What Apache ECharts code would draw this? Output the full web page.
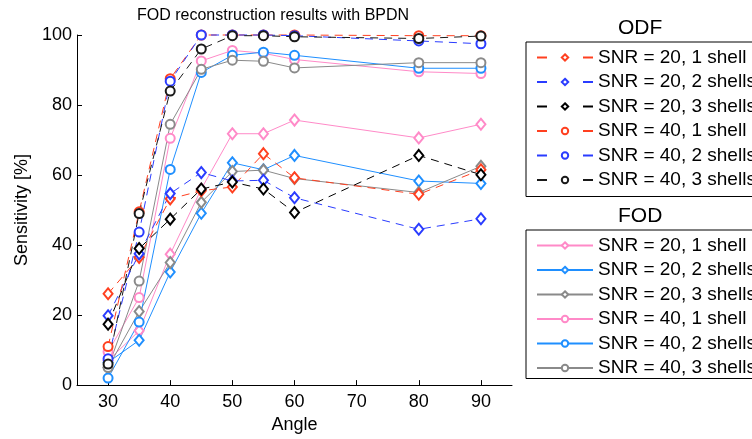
<!DOCTYPE html>
<html>
<head>
<meta charset="utf-8">
<script src="https://cdn.jsdelivr.net/npm/echarts@6/dist/echarts.min.js"></script>
<style>
html,body{margin:0;padding:0;background:#fff;}
#chart{width:752px;height:439px;}
</style>
</head>
<body>
<div id="chart"></div>
<script>
// ---- data ----
const angles = [30, 35, 40, 45, 50, 55, 60, 80, 90];
const xTicks = [30, 40, 50, 60, 70, 80, 90];
const seriesLabels = ['SNR = 20, 1 shell', 'SNR = 20, 2 shells', 'SNR = 20, 3 shells',
                      'SNR = 40, 1 shell', 'SNR = 40, 2 shells', 'SNR = 40, 3 shells'];

const odf_snr20_1 = [26.1, 36.5, 53.2, 55.5, 56.6, 66.1, 59.2, 54.5, 61.5];
const odf_snr20_2 = [19.8, 37.5, 54.7, 60.7, 58.3, 58.5, 53.5, 44.5, 47.5];
const odf_snr20_3 = [17.4, 39.0, 47.4, 56.0, 58.0, 56.0, 49.3, 65.6, 60.1];
const odf_snr40_1 = [11.0, 49.5, 87.5, 100, 100, 100, 100, 99.8, 99.8];
const odf_snr40_2 = [7.5, 43.7, 86.8, 100, 100, 100, 99.8, 98.3, 97.5];
const odf_snr40_3 = [6.0, 49.0, 84.0, 96.0, 99.8, 99.8, 99.5, 99.0, 99.7];

const fod_snr20_1 = [7.0, 15.5, 37.4, 56.0, 71.8, 71.8, 75.7, 70.6, 74.5];
const fod_snr20_2 = [6.5, 12.8, 32.3, 49.1, 63.5, 61.5, 65.6, 58.3, 57.6];
const fod_snr20_3 = [5.0, 21.0, 35.0, 52.2, 61.0, 61.4, 59.0, 55.0, 62.5];
const fod_snr40_1 = [9.5, 25.0, 70.5, 92.6, 95.6, 94.8, 93.0, 89.5, 89.0];
const fod_snr40_2 = [2.0, 18.0, 61.6, 89.3, 94.2, 95.1, 94.2, 90.5, 90.5];
const fod_snr40_3 = [5.0, 29.7, 74.5, 90.2, 92.8, 92.5, 90.6, 92.1, 92.1];

const odfValues = [odf_snr20_1, odf_snr20_2, odf_snr20_3, odf_snr40_1, odf_snr40_2, odf_snr40_3];
const fodValues = [fod_snr20_1, fod_snr20_2, fod_snr20_3, fod_snr40_1, fod_snr40_2, fod_snr40_3];

// ---- styles ----
const odfColors = ['#ff4020', '#2a3cff', '#000000', '#ff4020', '#2a3cff', '#1a1a1a'];
const fodColors = ['#ff8ac8', '#1f8fff', '#8a8a8a', '#ff8ac8', '#1f8fff', '#8a8a8a'];
const symbols = ['emptyDiamond', 'emptyDiamond', 'emptyDiamond', 'emptyCircle', 'emptyCircle', 'emptyCircle'];
const FONT = '"Liberation Sans", Arial, Helvetica, sans-serif';

function makeSeries(group, values, colors, dashed) {
  return values.map((vals, i) => ({
    name: group + '|' + seriesLabels[i],
    type: 'line',
    data: angles.map((a, j) => [a, vals[j]]),
    symbol: symbols[i],
    symbolSize: symbols[i] === 'emptyDiamond' ? [9, 11] : 9,
    clip: false,
    color: colors[i],
    lineStyle: { color: colors[i], width: 1, type: dashed ? [8, 6] : 'solid' },
    itemStyle: { color: colors[i], borderWidth: 1 },
    emphasis: { disabled: true },
    animation: false
  }));
}

const series = makeSeries('FOD', fodValues, fodColors, false)
  .concat(makeSeries('ODF', odfValues, odfColors, true));

const legendCommon = {
  orient: 'vertical',
  left: 526,
  itemWidth: 56,
  itemHeight: 8,
  itemGap: 5.5,
  borderColor: '#000',
  borderWidth: 1,
  backgroundColor: '#fff',
  selectedMode: false,
  formatter: n => n.split('|')[1],
  textStyle: { fontFamily: FONT, fontSize: 19, color: '#000' }
};

const chart = echarts.init(document.getElementById('chart'), null, { renderer: 'canvas' });
chart.setOption({
  animation: false,
  backgroundColor: '#fff',
  title: {
    text: 'FOD reconstruction results with BPDN',
    left: 137, top: 8, padding: 0,
    textStyle: { fontFamily: FONT, fontSize: 16, fontWeight: 'normal', color: '#000' }
  },
  graphic: [
    { type: 'text', left: 618, top: 18, style: { text: 'ODF', font: '21px ' + FONT, fill: '#000' } },
    { type: 'text', left: 618, top: 206, style: { text: 'FOD', font: '21px ' + FONT, fill: '#000' } }
  ],
  legend: [
    Object.assign({}, legendCommon, {
      top: 42,
      padding: [6, 10, 7, 10],
      data: seriesLabels.map(l => 'ODF|' + l),
      lineStyle: { type: [10, 36] }
    }),
    Object.assign({}, legendCommon, {
      top: 230,
      padding: [6, 10, 1, 10],
      data: seriesLabels.map(l => 'FOD|' + l)
    })
  ],
  grid: { left: 77, right: 240, top: 35, bottom: 51, containLabel: false },
  xAxis: {
    type: 'value', min: 25, max: 95,
    name: 'Angle', nameLocation: 'middle', nameGap: 30,
    nameTextStyle: { fontFamily: FONT, fontSize: 18, color: '#000' },
    axisLine: { show: true, lineStyle: { color: '#000', width: 1 } },
    axisTick: { show: true, inside: true, length: 5, customValues: xTicks, lineStyle: { color: '#000' } },
    axisLabel: { customValues: xTicks, margin: 8, fontFamily: FONT, fontSize: 18, color: '#000' },
    splitLine: { show: false }
  },
  yAxis: {
    type: 'value', min: 0, max: 100, interval: 20,
    name: 'Sensitivity [%]', nameLocation: 'middle', nameGap: 44,
    nameTextStyle: { fontFamily: FONT, fontSize: 18, color: '#000' },
    axisLine: { show: true, lineStyle: { color: '#000', width: 1 } },
    axisTick: { show: true, inside: true, length: 5, lineStyle: { color: '#000' } },
    axisLabel: { margin: 5, fontFamily: FONT, fontSize: 18, color: '#000' },
    splitLine: { show: false }
  },
  series: series
});
</script>
</body>
</html>
